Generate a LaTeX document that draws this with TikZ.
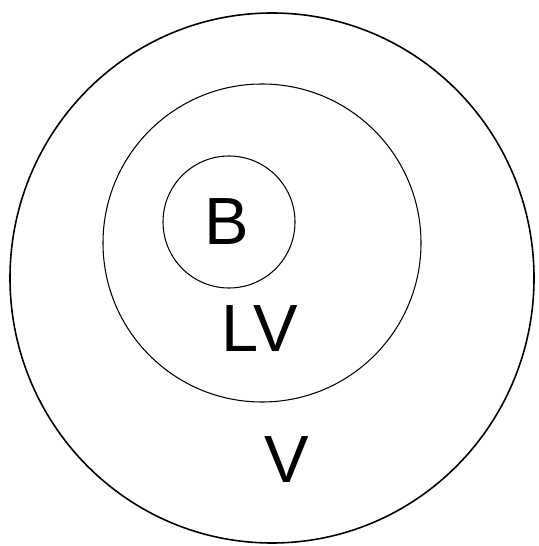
\documentclass[tikz,border=0pt]{standalone}
\usepackage{fontspec}
\setmainfont{Liberation Sans}
\begin{document}
\begin{tikzpicture}[x=0.02cm, y=-0.02cm,
    label/.style={font=\fontsize{38}{40}\selectfont, inner sep=0pt}]
      \useasboundingbox (0,0) rectangle (538,546);
      % Outer set V
      \draw[line width=0.9pt] (272,278) ellipse (262 and 265);
      % Set LV
      \draw[line width=0.6pt] (262,243) circle (159);
      % Set B
      \draw[line width=0.6pt] (229,222) circle (66);
      % Labels
      \node[label] (b) at (227,222) {B};
      \node[label] (lv) at (260,329) {LV};
      \node[label] (v) at (287,460) {V};
    \end{tikzpicture}
\end{document}
